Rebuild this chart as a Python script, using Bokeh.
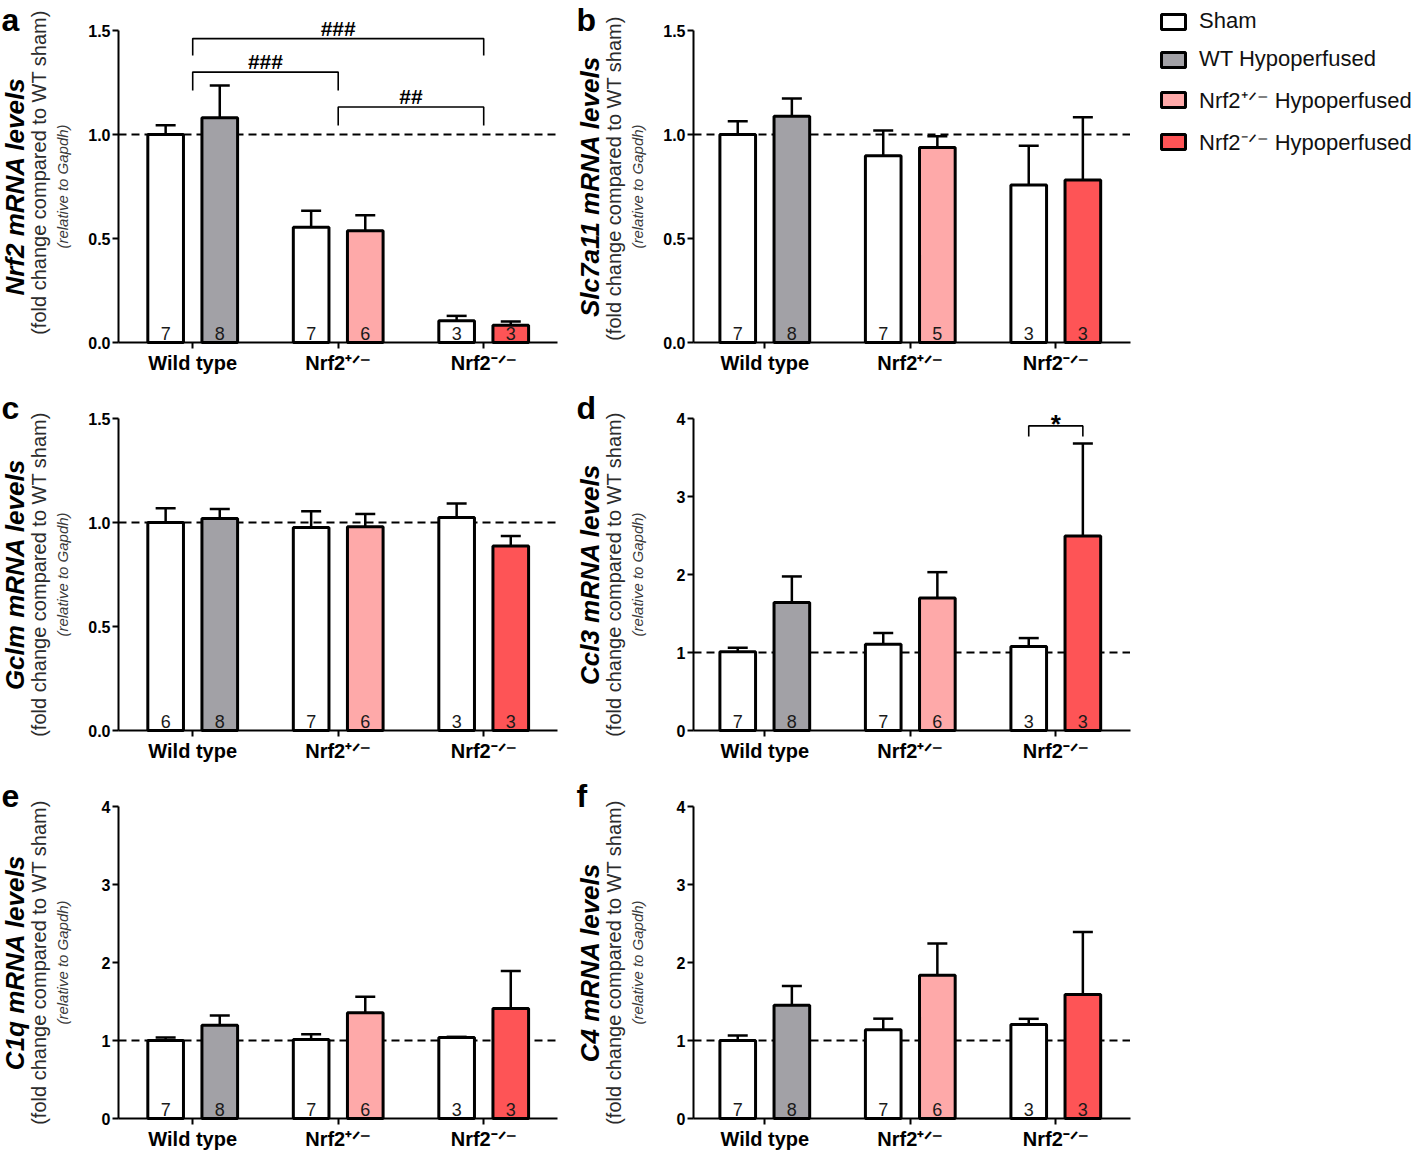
from bokeh.plotting import figure
from bokeh.models import (Range1d, FixedTicker, PrintfTickFormatter, Label, LinearAxis,
                          Whisker, TeeHead, ColumnDataSource, Legend, LegendItem)
from bokeh.layouts import column, row
from bokeh.embed import file_html
from bokeh.resources import INLINE
from bokeh.core.properties import value

# ---------------- data ----------------
group_labels = ["Wild type", "Nrf2\u207a\u141f\u207b", "Nrf2\u207b\u141f\u207b"]
legend_labels = ["Sham", "WT Hypoperfused", "Nrf2\u207a\u141f\u207b Hypoperfused",
                 "Nrf2\u207b\u141f\u207b Hypoperfused"]
legend_colors = ["#ffffff", "#a2a1a6", "#fea9a9", "#fe5456"]
# bar order: WT sham, WT hypo, Nrf2+/- sham, Nrf2+/- hypo, Nrf2-/- sham, Nrf2-/- hypo
bar_colors = ["#ffffff", "#a2a1a6", "#ffffff", "#fea9a9", "#ffffff", "#fe5456"]
reference_level = 1.0

nrf2_mean = [1.00, 1.08, 0.554, 0.537, 0.104, 0.083]
nrf2_sem = [0.045, 0.155, 0.080, 0.075, 0.024, 0.018]
nrf2_n = [7, 8, 7, 6, 3, 3]

slc7a11_mean = [1.00, 1.088, 0.898, 0.938, 0.757, 0.781]
slc7a11_sem = [0.064, 0.085, 0.121, 0.054, 0.189, 0.302]
slc7a11_n = [7, 8, 7, 5, 3, 3]

gclm_mean = [1.00, 1.019, 0.976, 0.979, 1.024, 0.887]
gclm_sem = [0.069, 0.046, 0.078, 0.062, 0.067, 0.048]
gclm_n = [6, 8, 7, 6, 3, 3]

ccl3_mean = [1.01, 1.64, 1.107, 1.70, 1.077, 2.494]
ccl3_sem = [0.05, 0.335, 0.143, 0.33, 0.108, 1.186]
ccl3_n = [7, 8, 7, 6, 3, 3]

c1q_mean = [1.00, 1.197, 1.013, 1.355, 1.038, 1.41]
c1q_sem = [0.04, 0.123, 0.067, 0.205, 0.009, 0.48]
c1q_n = [7, 8, 7, 6, 3, 3]

c4_mean = [1.00, 1.453, 1.137, 1.838, 1.205, 1.59]
c4_sem = [0.064, 0.247, 0.143, 0.406, 0.073, 0.80]
c4_n = [7, 8, 7, 6, 3, 3]

# significance brackets (panel a): between group centres
sig_a_x0 = [0, 0, 1]
sig_a_x1 = [2, 1, 2]
sig_a_top = [1.461, 1.300, 1.132]
sig_a_leg = [1.380, 1.212, 1.043]
sig_a_text = ["###", "###", "##"]
# panel d: between the two Nrf2-/- bars
sig_d_bar0 = [4]
sig_d_bar1 = [5]
sig_d_top = [3.905]
sig_d_leg = [3.77]
sig_d_text = ["*"]

# ---------------- style / geometry ----------------
FONT = "Liberation Sans"
PXU = 145.5           # pixels per category unit
AX = 118              # local x of the y axis
TB, FH = 30, 312      # local y of the plot top, plot height
FIG_W = 575
X1 = 2.51
BAR_OFF, BAR_W = 0.186, 0.245
bar_x = [g + s * BAR_OFF for g in range(3) for s in (-1, 1)]


def make_panel(letter, gene, mean, sem, n, ymax, yticks, fmt, col, fig_h,
               fold_shift=0, brackets=None, sig_size="21px", sig_off=10.5):
    X0 = -0.51 if col == 0 else -0.49
    xa = X0 - AX / PXU
    xb = xa + FIG_W / PXU
    pyu = FH / ymax
    ya0 = -(fig_h - TB - FH) / pyu
    ya1 = ymax + TB / pyu

    p = figure(width=FIG_W, height=fig_h, x_range=Range1d(xa, xb), y_range=Range1d(ya0, ya1),
               min_border=0, output_backend="svg", toolbar_location=None, tools="",
               x_axis_location=None, y_axis_location=None)
    p.outline_line_color = None
    p.grid.visible = False

    def LX(px):
        return xa + px / PXU

    src = ColumnDataSource(dict(
        x=bar_x, top=mean, upper=[m + s for m, s in zip(mean, sem)],
        fill=bar_colors, n=[str(v) for v in n]))

    # dashed reference line at WT sham level
    p.line(x=[X0, X1], y=[reference_level, reference_level], line_dash="8 5",
           line_width=2, line_color="black")
    p.vbar(x="x", top="top", bottom=0, width=BAR_W, fill_color="fill",
           line_color="black", line_width=3, source=src)
    p.add_layout(Whisker(source=src, base="x", lower="top", upper="upper",
                         dimension="height", line_width=2.5, line_color="black",
                         upper_head=TeeHead(size=20, line_width=2.5, line_color="black"),
                         lower_head=None, level="overlay"))
    p.text(x="x", y=0, text="n", source=src, text_align="center",
           text_baseline="bottom", y_offset=-3, text_font=value(FONT),
           text_font_size="18px", text_color="#1a1a1a")

    xaxis = LinearAxis(fixed_location=0, bounds=(X0, X1))
    xaxis.ticker = FixedTicker(ticks=[0, 1, 2])
    xaxis.major_label_overrides = {i: lab for i, lab in enumerate(group_labels)}
    xaxis.major_label_text_font = FONT
    xaxis.major_label_text_font_style = "bold"
    xaxis.major_label_text_font_size = "20px"
    xaxis.major_label_text_color = "black"
    xaxis.major_label_standoff = 3
    xaxis.axis_line_width = 2
    xaxis.major_tick_line_width = 2
    xaxis.major_tick_out = 6
    xaxis.major_tick_in = 0
    xaxis.minor_tick_line_color = None
    p.add_layout(xaxis, "below")

    yaxis = LinearAxis(fixed_location=X0, bounds=(0, ymax))
    yaxis.ticker = FixedTicker(ticks=yticks)
    yaxis.formatter = PrintfTickFormatter(format=fmt)
    yaxis.axis_line_width = 2
    yaxis.major_tick_line_width = 2
    yaxis.major_tick_out = 6
    yaxis.major_tick_in = 0
    yaxis.minor_tick_line_color = None
    yaxis.major_label_standoff = 2
    yaxis.major_label_text_font = FONT
    yaxis.major_label_text_font_style = "bold"
    yaxis.major_label_text_font_size = "16px"
    yaxis.major_label_text_color = "black"
    p.add_layout(yaxis, "left")

    # y-axis titles
    yc = ymax / 2.0
    p.add_layout(Label(x=LX(14), y=yc, text=f"{gene} mRNA levels",
                       angle=90, angle_units="deg", text_align="center",
                       text_baseline="middle", text_font=FONT,
                       text_font_style="bold italic", text_font_size="26px",
                       text_color="black"))
    p.add_layout(Label(x=LX(38), y=yc, y_offset=fold_shift,
                       text="(fold change compared to WT sham)",
                       angle=90, angle_units="deg", text_align="center",
                       text_baseline="middle", text_font=FONT,
                       text_font_size="20px", text_color="#2b2b2b"))
    p.add_layout(Label(x=LX(62), y=yc, text="(relative to Gapdh)",
                       angle=90, angle_units="deg", text_align="center",
                       text_baseline="middle", text_font=FONT,
                       text_font_style="italic", text_font_size="15px",
                       text_color="#3a3a3a"))
    # panel letter
    p.add_layout(Label(x=LX(1), y=ymax, y_offset=11, text=letter,
                       text_align="left", text_baseline="middle", text_font=FONT,
                       text_font_style="bold", text_font_size="32px",
                       text_color="black"))

    if brackets is not None:
        bx0, bx1, btop, bleg, btxt = brackets
        xs = [[a, a, b, b] for a, b in zip(bx0, bx1)]
        ys = [[l, t, t, l] for t, l in zip(btop, bleg)]
        p.multi_line(xs=xs, ys=ys, line_color="black", line_width=1.6)
        for a, b, t, s in zip(bx0, bx1, btop, btxt):
            p.add_layout(Label(x=(a + b) / 2.0, y=t, y_offset=sig_off, text=s,
                               text_align="center", text_baseline="middle",
                               text_font=FONT, text_font_style="bold",
                               text_font_size=sig_size, text_color="black"))
    return p


t15 = [0, 0.5, 1.0, 1.5]
t4 = [0, 1, 2, 3, 4]

pa = make_panel("a", "Nrf2", nrf2_mean, nrf2_sem, nrf2_n, 1.5, t15, "%.1f", 0, 388,
                fold_shift=14,
                brackets=(sig_a_x0, sig_a_x1, sig_a_top, sig_a_leg, sig_a_text))
pb = make_panel("b", "Slc7a11", slc7a11_mean, slc7a11_sem, slc7a11_n, 1.5, t15, "%.1f", 1,
                388, fold_shift=8)
pc = make_panel("c", "Gclm", gclm_mean, gclm_sem, gclm_n, 1.5, t15, "%.1f", 0, 388)
pd_ = make_panel("d", "Ccl3", ccl3_mean, ccl3_sem, ccl3_n, 4, t4, "%d", 1, 388,
                 brackets=([bar_x[i] for i in sig_d_bar0], [bar_x[i] for i in sig_d_bar1],
                           sig_d_top, sig_d_leg, sig_d_text),
                 sig_size="26px", sig_off=2)
pe = make_panel("e", "C1q", c1q_mean, c1q_sem, c1q_n, 4, t4, "%d", 0, 376)
pf = make_panel("f", "C4", c4_mean, c4_sem, c4_n, 4, t4, "%d", 1, 376)

# legend panel
lg = figure(width=268, height=388, x_range=Range1d(0, 1), y_range=Range1d(0, 1),
            min_border=0, output_backend="svg", toolbar_location=None, tools="",
            x_axis_location=None, y_axis_location=None)
lg.outline_line_color = None
lg.grid.visible = False
nan = float("nan")
rends = [lg.vbar(x=[nan], top=[nan], width=0.1, fill_color=c, line_color="black",
                 line_width=3) for c in legend_colors]
leg = Legend(items=[LegendItem(label=l, renderers=[r]) for l, r in zip(legend_labels, rends)],
             location="top_left", glyph_width=30, glyph_height=19, label_standoff=11,
             label_height=19, spacing=12, padding=0, margin=8,
             border_line_color=None, background_fill_alpha=0,
             label_text_font=FONT, label_text_font_size="22px", label_text_color="#111111")
lg.add_layout(leg)

layout = column(row(pa, pb, lg), row(pc, pd_), row(pe, pf))
open("out.html", "w").write(file_html(layout, INLINE))
